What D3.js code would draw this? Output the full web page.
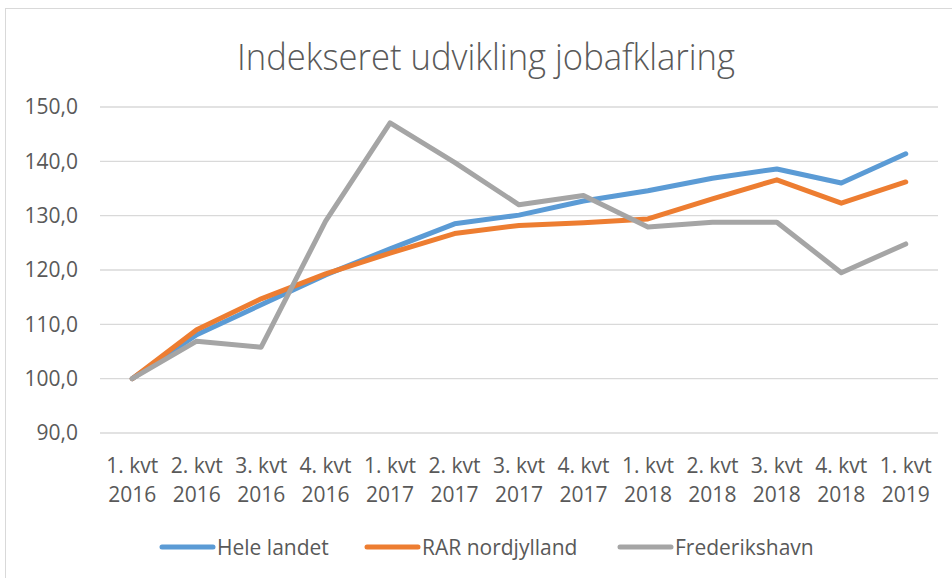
<!DOCTYPE html>
<html>
<head>
<meta charset="utf-8">
<script src="https://cdn.jsdelivr.net/npm/d3@7"></script>
<style>
  body { margin: 0; background: #fff; }
  text { font-family: "Open Sans", "Liberation Sans", sans-serif; fill: #595959; }
</style>
</head>
<body>
<div id="chart-container"></div>
<script>
// quarters, two lines per label
var quarters = ["1. kvt", "2. kvt", "3. kvt", "4. kvt", "1. kvt", "2. kvt", "3. kvt", "4. kvt", "1. kvt", "2. kvt", "3. kvt", "4. kvt", "1. kvt"];
var years = ["2016", "2016", "2016", "2016", "2017", "2017", "2017", "2017", "2018", "2018", "2018", "2018", "2019"];

var heleLandet = [100, 108.1, 113.6, 119.1, 123.9, 128.5, 130.1, 132.7, 134.6, 136.9, 138.6, 136.0, 141.4];
var rarNordjylland = [100, 109.0, 114.7, 119.3, 123.1, 126.7, 128.2, 128.7, 129.4, 133.1, 136.6, 132.3, 136.2];
var frederikshavn = [100, 106.9, 105.8, 129.0, 147.1, 139.8, 132.0, 133.7, 127.9, 128.8, 128.8, 119.5, 124.8];

var seriesNames = ["Hele landet", "RAR nordjylland", "Frederikshavn"];
var seriesColors = ["#5b9bd5", "#ed7d31", "#a5a5a5"];
var yTicks = [90, 100, 110, 120, 130, 140, 150];

var series = [heleLandet, rarNordjylland, frederikshavn];
var width = 952, height = 578;
var margin = {top: 107, right: 14, bottom: 145, left: 100};
var plotW = width - margin.left - margin.right,
    plotH = height - margin.top - margin.bottom;

var svg = d3.select("#chart-container").append("svg")
    .attr("width", width)
    .attr("height", height);

// chart border
svg.append("rect")
    .attr("x", 5.5).attr("y", 8.5)
    .attr("width", 960).attr("height", 600)
    .attr("fill", "none")
    .attr("stroke", "#d9d9d9");

svg.append("text")
    .attr("x", 486).attr("y", 70)
    .attr("text-anchor", "middle")
    .attr("textLength", 498)
    .attr("lengthAdjust", "spacingAndGlyphs")
    .style("font-size", "36px")
    .style("font-weight", 300)
    .text("Indekseret udvikling jobafklaring");

var g = svg.append("g")
    .attr("transform", "translate(" + margin.left + "," + margin.top + ")");

var x = d3.scaleBand().domain(d3.range(quarters.length)).range([0, plotW]);
var y = d3.scaleLinear().domain([90, 150]).range([plotH, 0]);

// gridlines
g.append("g").selectAll("line")
    .data(yTicks)
  .enter().append("line")
    .attr("x1", 0).attr("x2", plotW)
    .attr("y1", function(d) { return y(d); })
    .attr("y2", function(d) { return y(d); })
    .attr("stroke", "#d9d9d9")
    .attr("stroke-width", 1.3);

// y axis
var yAxis = g.append("g")
    .call(d3.axisLeft(y).tickValues(yTicks).tickSize(0).tickPadding(22)
      .tickFormat(function(d) { return d3.format(".1f")(d).replace(".", ","); }));
yAxis.select(".domain").remove();
yAxis.selectAll("text").style("font-size", "21px").attr("fill", "#595959");

// x axis labels
var xLab = g.append("g").attr("transform", "translate(0," + plotH + ")");
quarters.forEach(function(q, i) {
  var t = xLab.append("text")
      .attr("x", x(i) + x.bandwidth() / 2)
      .attr("y", 40)
      .attr("text-anchor", "middle")
      .style("font-size", "21px");
  t.append("tspan").attr("x", x(i) + x.bandwidth() / 2).text(q);
  t.append("tspan").attr("x", x(i) + x.bandwidth() / 2).attr("dy", 29).text(years[i]);
});

var line = d3.line()
    .x(function(d, i) { return x(i) + x.bandwidth() / 2; })
    .y(function(d) { return y(d); });

series.forEach(function(s, k) {
  g.append("path")
      .datum(s)
      .attr("fill", "none")
      .attr("stroke", seriesColors[k])
      .attr("stroke-width", 5)
      .attr("stroke-linejoin", "round")
      .attr("stroke-linecap", "round")
      .attr("d", line);
});

// legend
var legendX = [162, 367, 620];
var legend = svg.append("g");
seriesNames.forEach(function(n, k) {
  legend.append("line")
      .attr("x1", legendX[k]).attr("x2", legendX[k] + 51)
      .attr("y1", 547).attr("y2", 547)
      .attr("stroke", seriesColors[k])
      .attr("stroke-width", 5)
      .attr("stroke-linecap", "round");
  legend.append("text")
      .attr("x", legendX[k] + 55).attr("y", 555)
      .style("font-size", "21px")
      .text(n);
});
</script>
</body>
</html>
